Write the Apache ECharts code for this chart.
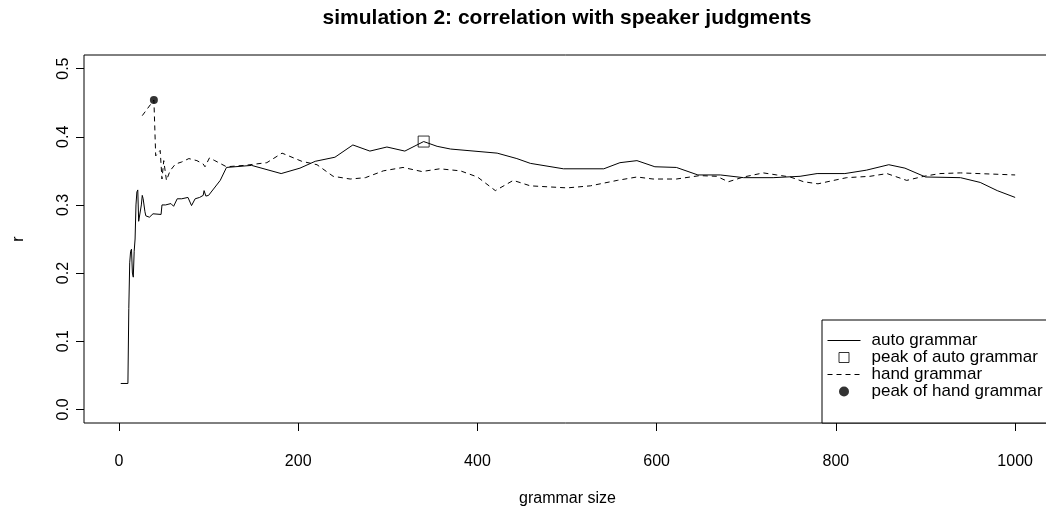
<!DOCTYPE html>
<html>
<head>
<meta charset="utf-8">
<script src="https://cdn.jsdelivr.net/npm/echarts@6/dist/echarts.min.js"></script>
<style>
  html, body { margin: 0; padding: 0; background: #fff; }
  #chart { width: 1046px; height: 510px; }
</style>
</head>
<body>
<div id="chart"></div>
<script>
// Tick positions
const xTicks = [0, 200, 400, 600, 800, 1000];
const yTicks = [0, 0.1, 0.2, 0.3, 0.4, 0.5];

// Automatically induced grammar: correlation r by grammar size
const autoSize = [2, 10, 11, 12, 13, 14, 15, 16, 17, 18, 19, 20, 21, 22, 24, 25, 26, 27, 29, 30, 34, 38,
  47, 48, 52, 58, 61, 65, 70, 77, 81, 85, 90, 94, 95, 97, 100, 113, 120, 148, 181, 202, 219, 241, 261,
  280, 299, 319, 340, 355, 370, 422, 444, 459, 496, 541, 559, 578, 598, 622, 646, 671, 697, 730, 760,
  779, 810, 834, 859, 877, 900, 939, 961, 980, 1000];
const autoR = [0.038, 0.038, 0.148, 0.215, 0.232, 0.235, 0.200, 0.194, 0.232, 0.250, 0.300, 0.319, 0.322,
  0.276, 0.276, 0.300, 0.314, 0.309, 0.290, 0.284, 0.282, 0.287, 0.286, 0.300, 0.300, 0.302, 0.298, 0.309,
  0.309, 0.311, 0.299, 0.309, 0.311, 0.314, 0.321, 0.313, 0.314, 0.336, 0.355, 0.358, 0.346, 0.354, 0.364,
  0.370, 0.388, 0.379, 0.385, 0.379, 0.393, 0.386, 0.382, 0.376, 0.368, 0.361, 0.353, 0.353, 0.362, 0.365,
  0.356, 0.355, 0.344, 0.344, 0.340, 0.340, 0.342, 0.346, 0.346, 0.351, 0.359, 0.354, 0.341, 0.340, 0.333,
  0.321, 0.311];

// Hand-written grammar
const handSize = [26, 39, 41, 46, 48, 50, 53, 57, 63, 70, 78, 87, 94, 96, 101, 107, 120, 140, 165, 182,
  204, 221, 239, 258, 275, 295, 317, 338, 358, 381, 400, 420, 440, 459, 500, 526, 556, 578, 596, 622, 648,
  667, 680, 697, 719, 734, 749, 764, 780, 794, 812, 838, 857, 879, 898, 916, 939, 1000];
const handR = [0.431, 0.454, 0.372, 0.380, 0.338, 0.365, 0.336, 0.350, 0.360, 0.363, 0.368, 0.365, 0.360,
  0.356, 0.369, 0.365, 0.356, 0.358, 0.362, 0.376, 0.364, 0.359, 0.342, 0.338, 0.340, 0.350, 0.355, 0.349,
  0.353, 0.350, 0.341, 0.321, 0.336, 0.328, 0.325, 0.328, 0.336, 0.341, 0.338, 0.338, 0.343, 0.342, 0.334,
  0.341, 0.347, 0.344, 0.341, 0.334, 0.331, 0.335, 0.340, 0.342, 0.346, 0.336, 0.342, 0.346, 0.347, 0.344];

// Peaks of each curve: [grammar size, r]
const autoPeak = [340, 0.393];
const handPeak = [39, 0.454];

const zip = (xs, ys) => xs.map((x, i) => [x, ys[i]]);
const FONT = '"Liberation Sans", Arial, Helvetica, sans-serif';
const SQUARE = 'path://M0,0H10V10H0Z';

const chart = echarts.init(document.getElementById('chart'), null, { renderer: 'canvas' });
chart.setOption({
  animation: false,
  backgroundColor: '#fff',
  textStyle: { fontFamily: FONT, color: '#000' },
  title: {
    text: 'simulation 2: correlation with speaker judgments',
    left: 562,
    top: 3,
    textAlign: 'center',
    textStyle: { fontFamily: FONT, fontSize: 21, fontWeight: 'bold', color: '#000' }
  },
  grid: {
    left: 84, top: 55, width: 967, height: 368,
    show: true, borderColor: '#000', borderWidth: 1, backgroundColor: 'transparent',
    outerBoundsMode: 'none'
  },
  xAxis: {
    type: 'value', min: -39, max: 1040,
    name: 'grammar size', nameLocation: 'middle', nameGap: 68,
    nameTextStyle: { fontFamily: FONT, fontSize: 16, color: '#000' },
    axisLine: { show: false, onZero: false },
    axisTick: { show: true, length: 8, customValues: xTicks, lineStyle: { color: '#000', width: 1 } },
    axisLabel: {
      customValues: xTicks, fontFamily: FONT, fontSize: 16, color: '#000', margin: 31,
      formatter: v => String(v)
    },
    splitLine: { show: false }
  },
  yAxis: {
    type: 'value', min: -0.02, max: 0.52,
    name: 'r', nameLocation: 'middle', nameRotate: 90, nameGap: 57,
    nameTextStyle: { fontFamily: FONT, fontSize: 16, color: '#000' },
    axisLine: { show: false, onZero: false },
    axisTick: { show: true, length: 8, customValues: yTicks, lineStyle: { color: '#000', width: 1 } },
    axisLabel: {
      customValues: yTicks, rotate: 90, fontFamily: FONT, fontSize: 16, color: '#000', margin: 12,
      formatter: v => v.toFixed(1)
    },
    splitLine: { show: false }
  },
  legend: {
    orient: 'vertical',
    left: 822, top: 320,
    padding: [12, 40, 23, 5],
    itemWidth: 33, itemHeight: 10, itemGap: 0,
    selectedMode: false,
    symbolKeepAspect: true,
    borderColor: '#000', borderWidth: 1, borderRadius: 0, backgroundColor: '#fff',
    lineStyle: { width: 1 },
    itemStyle: { borderWidth: 1 },
    textStyle: { fontFamily: FONT, fontSize: 17, color: '#000', lineHeight: 17, padding: [0, 0, 0, 6] },
    data: [
      { name: 'auto grammar', itemStyle: { opacity: 0 } },
      { name: 'peak of auto grammar', icon: SQUARE },
      { name: 'hand grammar', itemStyle: { opacity: 0 } },
      { name: 'peak of hand grammar', itemStyle: { borderWidth: 0 } }
    ]
  },
  series: [
    {
      name: 'auto grammar', type: 'line', data: zip(autoSize, autoR),
      symbol: 'none', lineStyle: { color: '#000', width: 1 }, itemStyle: { color: '#000' }
    },
    {
      name: 'hand grammar', type: 'line', data: zip(handSize, handR),
      symbol: 'none', lineStyle: { color: '#000', width: 1, type: [5, 4] }, itemStyle: { color: '#000' }
    },
    {
      name: 'peak of auto grammar', type: 'scatter', data: [autoPeak],
      symbol: 'rect', symbolSize: 11, symbolKeepAspect: true,
      itemStyle: { color: 'rgba(255,255,255,0)', borderColor: '#000', borderWidth: 1 }
    },
    {
      name: 'peak of hand grammar', type: 'scatter', data: [handPeak],
      symbol: 'circle', symbolSize: 8, symbolKeepAspect: true,
      itemStyle: { color: '#000' }
    }
  ]
});
</script>
</body>
</html>
